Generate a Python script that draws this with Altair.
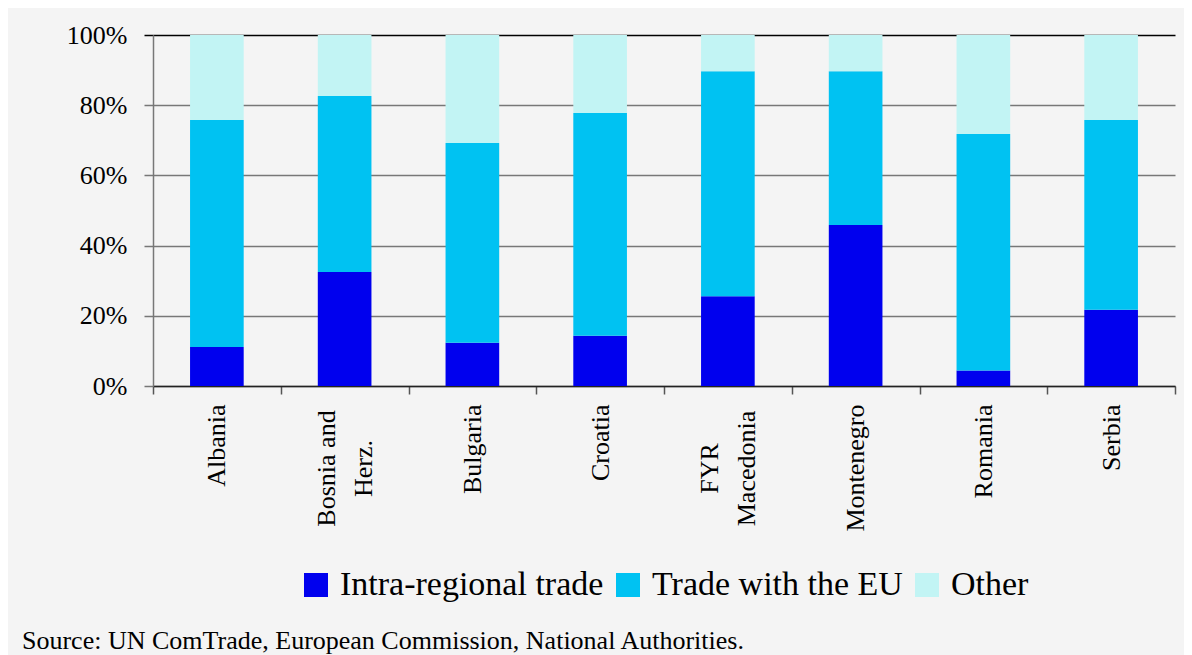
import altair as alt
import pandas as pd

countries = ["Albania", "Bosnia and Herz.", "Bulgaria", "Croatia",
             "FYR Macedonia", "Montenegro", "Romania", "Serbia"]
intra = [11.1, 32.5, 12.3, 14.3, 25.6, 45.9, 4.4, 21.7]
eu = [64.7, 50.1, 56.9, 63.5, 64.1, 43.8, 67.4, 54.1]
other = [24.2, 17.4, 30.8, 22.2, 10.3, 10.3, 28.2, 24.2]
series = ["Intra-regional trade", "Trade with the EU", "Other"]
colors = ["#0000EE", "#00C2F2", "#C2F4F4"]
y_ticks = [0, 20, 40, 60, 80, 100]
source_text = "Source: UN ComTrade, European Commission, National Authorities."

rows = []
for i, c in enumerate(countries):
    for k, (s, vals) in enumerate(zip(series, [intra, eu, other])):
        rows.append({"country": c, "series": s, "value": vals[i], "ord": k})
df = pd.DataFrame(rows)

FONT = "Liberation Serif"
label_expr = (
    "datum.label == 'Bosnia and Herz.' ? ['Bosnia and', 'Herz.'] : "
    "datum.label == 'FYR Macedonia' ? ['FYR', 'Macedonia'] : datum.label"
)
multi_test = "datum.label == 'Bosnia and Herz.' || datum.label == 'FYR Macedonia'"

chart = alt.Chart(df).mark_bar(width=alt.RelativeBandSize(0.42)).encode(
    x=alt.X("country:N", sort=countries, title=None,
            scale=alt.Scale(paddingInner=0, paddingOuter=0),
            axis=alt.Axis(labelAngle=270,
                          labelAlign={"condition": {"test": multi_test, "value": "center"}, "value": "right"},
                          labelBaseline="middle",
                          labelFont=FONT, labelFontSize=26, labelColor="black",
                          labelPadding={"condition": {"test": multi_test, "value": 74}, "value": 10},
                          labelOffset={"condition": {"test": multi_test, "value": -18}, "value": 0},
                          labelLineHeight=37, labelExpr=label_expr,
                          labelLimit=0, labelOverlap=False, labelFlush=False,
                          tickBand="extent", tickSize=8, tickColor="#555555",
                          tickWidth=1.5, domainColor="#222222", domainWidth=1.5,
                          grid=False)),
    y=alt.Y("value:Q", stack="zero", title=None,
            scale=alt.Scale(domain=[0, 100], nice=False),
            axis=alt.Axis(values=y_ticks, labelExpr="datum.value + '%'",
                          labelFont=FONT, labelFontSize=26, labelColor="black",
                          labelPadding=17, tickSize=9, tickWidth=1.5,
                          tickColor={"condition": {"test": "datum.value === 100", "value": "black"}, "value": "#777777"},
                          gridColor={"condition": {"test": "datum.value === 100", "value": "black"}, "value": "#777777"},
                          gridWidth=1.5, grid=True,
                          domainColor="#777777", domainWidth=1.5)),
    color=alt.Color("series:N", scale=alt.Scale(domain=series, range=colors),
                    legend=alt.Legend(title=None, orient="none", direction="horizontal",
                                      legendX=146, legendY=533,
                                      symbolType="square", symbolSize=576,
                                      symbolStrokeWidth=0, symbolOpacity=1,
                                      labelFont=FONT, labelFontSize=34,
                                      labelColor="black", labelOffset=7,
                                      columnPadding=7, labelLimit=0, padding=0)),
    order=alt.Order("ord:Q", sort="ascending"),
).properties(
    width=1022, height=351,
    background="#f4f4f4",
    padding={"left": 145, "top": 27, "right": 9, "bottom": 272},
    autosize=alt.AutoSizeParams(type="none"),
    title=alt.TitleParams(source_text, orient="bottom", anchor="start", frame="group",
                          dx=-131, offset=26, font=FONT, fontSize=26,
                          fontWeight="normal", color="black"),
).configure(font=FONT).configure_axis(labelFont=FONT).configure_view(stroke=None)

chart.save("out.html", embed_options={"renderer": "svg", "actions": False})
